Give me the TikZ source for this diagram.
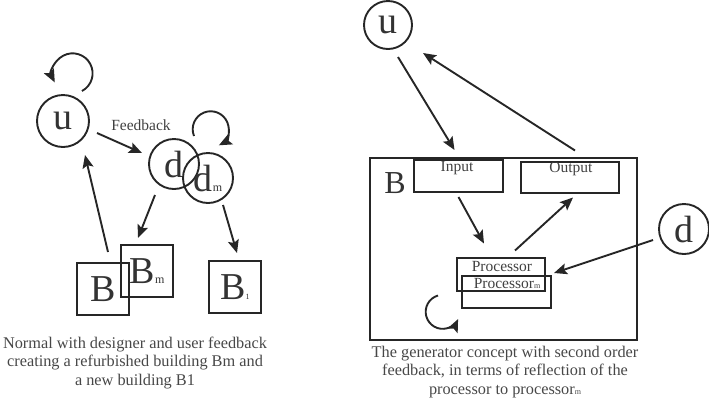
\documentclass[tikz,border=0pt]{standalone}
\usepackage{fontspec}
\setmainfont{Liberation Serif}
\usetikzlibrary{arrows.meta,calc}
\begin{document}
\begin{tikzpicture}[x=1pt,y=-1pt,color=black!85,
  circ/.style={circle,draw,line width=1.9pt,minimum size=50pt,inner sep=0pt,text=black!80,font=\fontsize{38}{38}\selectfont},
  sq/.style={rectangle,draw,line width=1.9pt,minimum size=52pt,inner sep=0pt,text=black!80,font=\fontsize{38}{38}\selectfont},
  box/.style={rectangle,draw,line width=1.9pt,inner sep=0pt},
  lbl/.style={font=\fontsize{15.5}{18}\selectfont,inner sep=0pt,text=black!75},
  captxt/.style={font=\fontsize{16.3}{18.8}\selectfont,align=center,inner sep=0pt,text=black!72},
  arr/.style={-{Stealth[length=13pt,width=11pt,inset=2.5pt]},line width=1.9pt},
]
\useasboundingbox (0,0) rectangle (709,400);
% ---------- left diagram ----------
\node[circ,minimum size=52pt] (uL) at (63,121) {u};
\node[circ] (dL) at (174,164) {d};
\node[circ] (dmL) at (208,178) {d{\fontsize{12}{12}\selectfont m}};
\node[sq] (BL) at (103,289) {B};
\node[sq] (BmL) at (147,271) {B{\fontsize{12}{12}\selectfont m}};
\node[sq] (B1L) at (235,287) {B{\fontsize{8}{8}\selectfont 1}};
\node[lbl] (fb) at (141,125) {Feedback};
\draw[arr] ($(uL)+(19,-30)$) arc[start angle=62,end angle=-207,radius=20];
\draw[arr] ($(dL)+(20,-28)$) arc[start angle=158,end angle=423,radius=18];
\draw[arr] ($(uL)+(34,12)$) -- ($(dL)+(-32,-11)$);
\draw[arr] ($(dL)+(-19,31)$) -- ($(BmL)+(-9,-33)$);
\draw[arr] ($(BL)+(5,-37)$) -- ($(uL)+(22,34)$);
\draw[arr] ($(dmL)+(15,27)$) -- ($(B1L)+(2,-34)$);
\node[captxt] (capL) at (135,363) {Normal with designer and user feedback\\creating a refurbished building Bm and\\a new building B1};
% ---------- right diagram ----------
\node[circ,minimum size=48pt] (uR) at (388,25) {u};
\node[box,minimum width=267pt,minimum height=182pt] (BR) at (503.5,249) {};
\node[inner sep=0pt,text=black!80,font=\fontsize{32}{32}\selectfont] (BRl) at (395,183) {B};
\node[box,minimum width=89pt,minimum height=32pt] (In) at (458.5,176) {};
\node[lbl] (Inl) at (457,168) {Input};
\node[box,minimum width=98pt,minimum height=31pt] (Out) at (570,177.5) {};
\node[lbl] (Outl) at (571,169) {Output};
\node[box,minimum width=88pt,minimum height=33pt] (P) at (501,274.5) {};
\node[lbl] (Pl) at (502,266) {Processor};
\node[box,minimum width=89pt,minimum height=32pt] (Pm) at (506.5,292) {};
\node[lbl] (Pml) at (507,283) {Processor{\fontsize{8}{8}\selectfont m}};
\node[circ] (dR) at (684,229) {d};
\draw[arr] ($(uR)+(10,32)$) -- ($(In)+(-4,-26)$);
\draw[arr] ($(Out)+(5,-27)$) -- ($(uR)+(35,28)$);
\draw[arr] ($(In)+(0,21)$) -- ($(P)+(-17,-31)$);
\draw[arr] ($(P)+(14,-24)$) -- ($(Out)+(3,20)$);
\draw[arr] ($(dR)+(-31,11)$) -- ($(P)+(53,-1.5)$);
\draw[arr] ($(P)+(-63,21)$) arc[start angle=254,end angle=25,radius=17];
\node[captxt] (capR) at (505,372) {The generator concept with second order\\feedback, in terms of reflection of the\\processor to processor{\fontsize{8}{8}\selectfont m}};
\end{tikzpicture}
\end{document}
